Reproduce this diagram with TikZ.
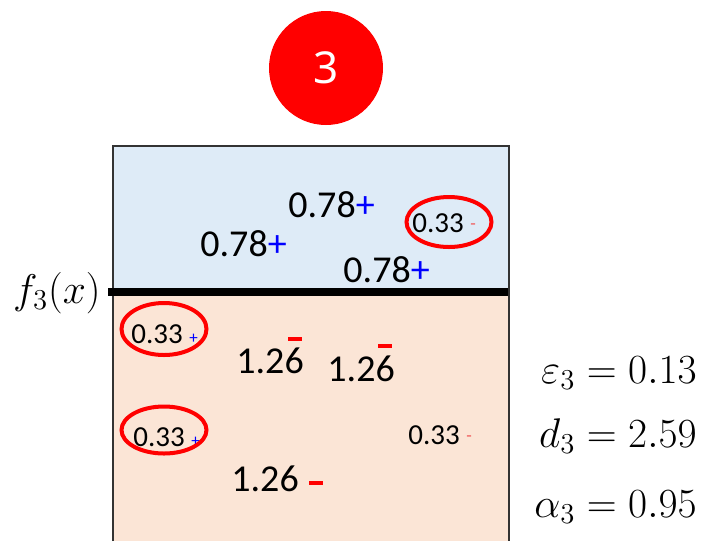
\documentclass[tikz,border=0pt]{standalone}
\usepackage{fontspec}
\setmainfont{Carlito}
\newfontfamily\badgefont{Noto Sans}
\usetikzlibrary{shapes.geometric}
\definecolor{topfill}{HTML}{DEEBF7}
\definecolor{botfill}{HTML}{FBE5D6}
\definecolor{plusblue}{RGB}{0,0,255}
\definecolor{minusred}{RGB}{255,0,0}
\definecolor{faintred}{RGB}{240,90,90}
\newcommand{\bigplus}{\textcolor{plusblue}{+}}
\newcommand{\tinyplus}{\textcolor{plusblue}{\fontsize{8.5}{8.5}\selectfont+}}
\newcommand{\tinyminus}{\textcolor{faintred}{\fontsize{9}{9}\selectfont\raisebox{1.5pt}{-}}}
\begin{document}
\begin{tikzpicture}[x=0.5pt, y=-0.5pt,
    badge/.style={circle, fill=minusred, minimum size=57pt, inner sep=0pt,
      text=white, font=\badgefont\fontsize{22}{22}\selectfont},
    wbig/.style={anchor=base west, inner sep=0pt, font=\fontsize{19}{19}\selectfont},
    wsmall/.style={anchor=base west, inner sep=0pt, font=\fontsize{14.5}{14.5}\selectfont},
    ring/.style={ellipse, draw=minusred, line width=2pt, minimum width=42.5pt, inner sep=0pt},
    bar/.style={fill=minusred, minimum width=7pt, minimum height=2pt, inner sep=0pt},
    stat/.style={anchor=base east, inner sep=0pt, font=\fontsize{20}{20}\selectfont} ]
    % --- Badge ---
    \node[badge] (badge) at (326, 68) {3};

    % --- Regions ---
    \fill[topfill] (113, 146) rectangle (509, 292);
    \fill[botfill] (113, 292) rectangle (509, 541);
    \draw[black!80, line width=0.6pt] (113, 541) -- (113, 146) -- (509, 146) -- (509, 541);
    \coordinate (cutl) at (108, 292);
    \coordinate (cutr) at (508, 292);
    \draw[line width=4pt] (cutl) -- (cutr);
    \node[anchor=base east, inner sep=0pt, font=\fontsize{20}{20}\selectfont] (flabel) at (101, 303) {$f_3(x)$};

    % --- Upper side ---
    \node[wbig] (u1) at (288, 217) {0.78\bigplus};
    \node[wbig] (u2) at (200, 256) {0.78\bigplus};
    \node[wbig] (u3) at (343, 282) {0.78\bigplus};
    \node[wsmall] (u4) at (412, 232) {0.33 \tinyminus};
    \node[ring, minimum height=25pt] (r1) at (449, 222) {};

    % --- Lower side ---
    \node[wsmall] (l1) at (131, 343) {0.33 \tinyplus};
    \node[ring, minimum height=26pt] (r2) at (164, 329) {};
    \node[wbig] (l2) at (236, 373) {1.26};
    \node[bar] (l2m) at (295, 339) {};
    \node[wbig] (l3) at (327, 381) {1.26};
    \node[bar] (l3m) at (385, 346) {};
    \node[wsmall] (l4) at (133, 446) {0.33 \tinyplus};
    \node[ring, minimum height=23.5pt] (r3) at (164, 430) {};
    \node[wsmall] (l5) at (408, 444) {0.33 \tinyminus};
    \node[wbig] (l6) at (231, 491) {1.26};
    \node[bar] (l6m) at (316, 483) {};

    % --- Values ---
    \node[stat] (eps) at (697, 383) {$\varepsilon_3 = 0.13$};
    \node[stat] (dval) at (697, 447) {$d_3 = 2.59$};
    \node[stat] (alpha) at (697, 517) {$\alpha_3 = 0.95$};

    % Bounding box
    \useasboundingbox (0, 0) rectangle (710, 541);
\end{tikzpicture}
\end{document}
